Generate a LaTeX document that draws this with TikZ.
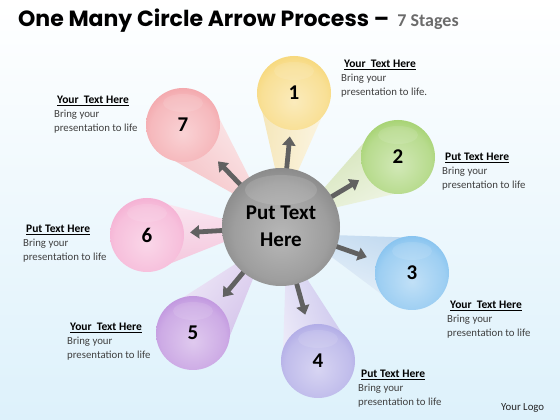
\documentclass[tikz,border=0pt]{standalone}
\usepackage{fontspec}
\setmainfont{Carlito}
\newfontfamily\titlefont{Poppins}
\usetikzlibrary{calc,arrows.meta}
\definecolor{bgblue}{HTML}{DDF1FB}
\definecolor{cA}{HTML}{F3C63F}\definecolor{bA}{HTML}{F5E6B8}
\definecolor{cB}{HTML}{7DBE31}\definecolor{bB}{HTML}{D3E3B6}
\definecolor{cC}{HTML}{4EA7E8}\definecolor{bC}{HTML}{C2DAF0}
\definecolor{cD}{HTML}{8D86DB}\definecolor{bD}{HTML}{C9C3EC}
\definecolor{cE}{HTML}{A466D0}\definecolor{bE}{HTML}{D3C2EA}
\definecolor{cF}{HTML}{F08CBF}\definecolor{bF}{HTML}{F3C3DB}
\definecolor{cG}{HTML}{EE7F86}\definecolor{bG}{HTML}{F4C0C4}
\definecolor{bodytext}{HTML}{404040}
\colorlet{ballc}{cA}
\pgfdeclareradialshading[ballc]{myball}{\pgfpoint{0bp}{-6bp}}{%
  color(0bp)=(ballc!35!white); color(22bp)=(ballc!55!white);
  color(38bp)=(ballc!88!white); color(46bp)=(ballc); color(54bp)=(ballc!82!black)}
\pgfdeclareradialshading{centerball}{\pgfpoint{0bp}{-4bp}}{%
  color(0bp)=(black!28); color(20bp)=(black!38); color(36bp)=(black!55);
  color(46bp)=(black!72); color(53bp)=(black!85)}
\tikzset{
  arr/.style={line width=4.8pt, draw=black!62, -{Triangle[width=13pt,length=9pt]}},
  num/.style={font=\fontsize{21}{21}\selectfont\bfseries, text=black},
  hdr/.style={anchor=base west, inner sep=0pt, font=\fontsize{11.5}{12}\selectfont\bfseries, text=black},
  body/.style={anchor=base west, inner sep=0pt, font=\fontsize{10.8}{12}\selectfont, text=bodytext},
}
\newcommand\mystage[3]{% beamcolor, ballcolor, coordinate name
  \path let \p1=($(#3)-(C)$), \n1={atan2(\y1,\x1)+180} in
    [shade, left color=#1!35!white, right color=#1, shading angle=\n1]
    ($(C)!56pt!(#3)!11pt!90:(#3)$) -- ($(#3)!37pt!-90:(C)$)
     -- ($(#3)!37pt!90:(C)$) -- ($(C)!56pt!(#3)!11pt!-90:(#3)$) -- cycle;
}
\newcommand\myball[3]{% coord, color, number
  \colorlet{ballc}{#2}
  \shade[shading=myball] (#1) circle (37pt);
  \fill[white, opacity=0.1] ($(#1)+(0,22)$) ellipse (20pt and 9pt);
  \node[num] (n#1) at (#1) {#3};
}
\newcommand\mylabel[5]{% name, x, ybase(px), header, last
  \node[hdr] (#1h) at (#2+3, 420-#3) {\underline{#4}};
  \node[body] (#1a) at (#2, 420-#3-14) {Bring your};
  \node[body] (#1b) at (#2, 420-#3-28) {#5};
}
\begin{document}
\begin{tikzpicture}[x=1pt,y=1pt]
\useasboundingbox (0,0) rectangle (560,420);
\shade[top color=white, middle color=white!70!bgblue, bottom color=bgblue] (0,0) rectangle (560,420);
\coordinate (C) at (281,193);
\coordinate (O1) at (294,327);
\coordinate (O2) at (398,263);
\coordinate (O3) at (412,147);
\coordinate (O4) at (318,59);
\coordinate (O5) at (193,87);
\coordinate (O6) at (147,185);
\coordinate (O7) at (183,295);
% beams
\mystage{bA}{cA}{O1}
\mystage{bB}{cB}{O2}
\mystage{bC}{cC}{O3}
\mystage{bD}{cD}{O4}
\mystage{bE}{cE}{O5}
\mystage{bF}{cF}{O6}
\mystage{bG}{cG}{O7}
% arrows
\foreach \o in {O1,O2,O3,O4,O5,O6,O7}{
  \draw[arr] ($(C)!52pt!(\o)$) -- ($(C)!91pt!(\o)$);
}
% balls
\myball{O1}{cA}{1}
\myball{O2}{cB}{2}
\myball{O3}{cC}{3}
\myball{O4}{cD}{4}
\myball{O5}{cE}{5}
\myball{O6}{cF}{6}
\myball{O7}{cG}{7}
% center
\shade[shading=centerball] (C) circle (59pt);
\fill[white, opacity=0.12] ($(C)+(0,37)$) ellipse (36pt and 15pt);
\node[font=\fontsize{21}{27}\selectfont\bfseries, align=center, text=black] (ctext) at ($(C)+(0,1)$) {Put Text\\Here};
% title
\node[anchor=base west, inner sep=0pt, font=\titlefont\bfseries\fontsize{22}{22}\selectfont] (title) at (18,393) {One Many Circle Arrow Process –};
\node[anchor=base west, inner sep=0pt, font=\fontsize{18}{18}\selectfont\bfseries, text=black!58] (sub) at ($(title.base east)+(8,0)$) {7 Stages};
% labels
\mylabel{l1}{341}{68}{Your\ \ Text Here}{presentation to life.}
\mylabel{l2}{442}{161}{Put Text Here}{presentation to life}
\mylabel{l3}{447}{309}{Your\ \ Text Here}{presentation to life}
\mylabel{l4}{358}{378}{Put Text Here}{presentation to life}
\mylabel{l5}{67}{331}{Your\ \ Text Here}{presentation to life}
\mylabel{l6}{23}{233}{Put Text Here}{presentation to life}
\mylabel{l7}{54}{104}{Your\ \ Text Here}{presentation to life}
\node[body, text=black!85] (logo) at (501,9) {Your Logo};
\end{tikzpicture}
\end{document}
